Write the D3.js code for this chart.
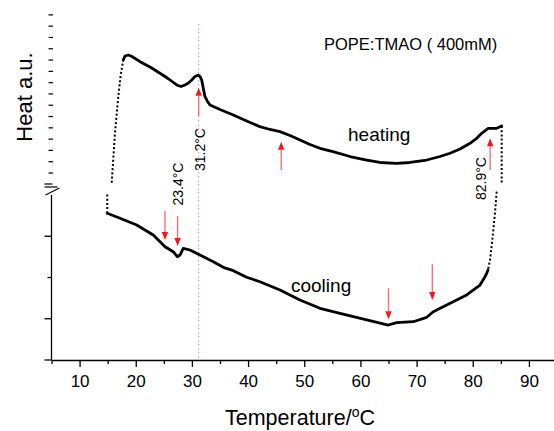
<!DOCTYPE html>
<html>
<head>
<meta charset="utf-8">
<script src="https://cdn.jsdelivr.net/npm/d3@7/dist/d3.min.js"></script>
<style>
  html, body { margin: 0; padding: 0; background: #fff; }
  svg { display: block; font-family: "Liberation Sans", Arial, sans-serif; }
</style>
</head>
<body>
<div id="chart"></div>
<script>
// ---------------- DATA ----------------
// Temperature (°C) and heat (arbitrary units)
const heatingRiseT = [15.72, 16.30, 16.89, 17.32, 17.78];
const heatingRiseH = [4.298, 5.503, 6.383, 6.909, 7.273];

const heatingT = [17.78, 18.09, 18.67, 19.33, 20.76, 22.54, 24.32, 25.74, 27.29, 28.05, 28.77, 29.39, 29.96, 30.55, 31.13, 31.44, 31.74, 32.02, 32.33, 32.77, 33.22, 35.0, 37.37, 39.75, 42.12, 43.90, 45.68, 47.46, 49.24, 51.02, 52.80, 55.12, 58.14, 61.12, 63.48, 66.46, 68.82, 71.80, 74.17, 75.95, 77.73, 79.51, 80.57, 81.59, 82.76, 84.26, 85.15];
const heatingH = [7.273, 7.370, 7.394, 7.358, 7.232, 7.103, 6.950, 6.824, 6.667, 6.630, 6.667, 6.715, 6.788, 6.873, 6.909, 6.873, 6.788, 6.594, 6.383, 6.267, 6.182, 6.073, 5.939, 5.794, 5.656, 5.588, 5.535, 5.442, 5.333, 5.224, 5.132, 5.050, 4.933, 4.848, 4.788, 4.768, 4.788, 4.848, 4.933, 5.011, 5.115, 5.253, 5.358, 5.496, 5.617, 5.617, 5.673];

const heatingEndT = [85.15, 85.15];
const heatingEndH = [5.673, 4.284];

const coolingStartT = [84.26, 83.96, 83.55, 83.07, 82.71];
const coolingStartH = [4.080, 3.564, 2.989, 2.424, 2.182];

const coolingT = [82.71, 82.48, 82.18, 81.29, 78.92, 75.36, 72.97, 71.80, 69.41, 66.46, 64.96, 61.12, 56.36, 52.80, 49.24, 45.68, 42.12, 39.75, 37.37, 35.59, 33.81, 31.44, 29.66, 28.46, 27.88, 27.40, 26.68, 25.21, 23.12, 20.17, 17.20, 14.93];
const coolingH = [2.182, 2.102, 2.019, 1.818, 1.576, 1.333, 1.171, 1.035, 0.928, 0.904, 0.848, 0.970, 1.132, 1.253, 1.455, 1.697, 1.898, 2.005, 2.165, 2.247, 2.383, 2.545, 2.667, 2.708, 2.545, 2.504, 2.625, 2.747, 3.030, 3.273, 3.435, 3.556];

const coolingEndT = [14.93, 14.93];
const coolingEndH = [3.556, 4.048];

// Arrows: temperature, start heat, tip heat
const arrowT     = [31.2, 45.9, 83.1, 25.2, 27.45, 65.0, 72.8];
const arrowFromH = [5.915, 4.606, 4.606, 3.619, 3.491, 1.738, 2.320];
const arrowToH   = [6.601, 5.292, 5.375, 2.909, 2.764, 0.987, 1.455];

// Transition annotations (rotated)
const transLabels = ["31.2°C", "23.4°C", "82.9°C"];
const transT      = [32.33, 28.4, 82.35];
const transH      = [4.582, 3.745, 3.879];

const markerT = 31.2;

// Axis ticks
const xMajorTicks = [10, 20, 30, 40, 50, 60, 70, 80, 90];
const xMinorTicks = [5, 15, 25, 35, 45, 55, 65, 75, 85, 95];
const yLowerMajor = [0, 1, 3];
const yLowerMinor = [2];
const yUpperDashes = [4.533, 4.807, 5.081, 5.354, 5.628, 5.902, 6.176, 6.450, 6.723, 6.997, 7.271, 7.545, 7.819, 8.092, 8.366];

// ---------------- CHART ----------------
const W = 554, H = 431;
const svg = d3.select("#chart").append("svg").attr("width", W).attr("height", H);

const x = d3.scaleLinear().domain([5, 95]).range([51.5, 557]);
const y = d3.scaleLinear().domain([0, 8.727]).range([360, 0]);

const zip = (a, b) => a.map((v, i) => [v, b[i]]);
const line = d3.line().x(d => x(d[0])).y(d => y(d[1]));

// dotted vertical marker
svg.append("line")
  .attr("x1", x(markerT)).attr("x2", x(markerT))
  .attr("y1", 24).attr("y2", y(0))
  .attr("stroke", "#f08a9a").attr("stroke-width", 1)
  .attr("stroke-dasharray", "1.5,2.5");

// X axis
const xAxis = svg.append("g").attr("transform", `translate(0,${y(0)})`)
  .call(d3.axisBottom(x).tickValues(xMajorTicks).tickSize(7).tickSizeOuter(0).tickPadding(8));
xAxis.selectAll("text").attr("font-size", 17).attr("font-family", "Liberation Sans, Arial, sans-serif").attr("fill", "#000");
xAxis.select(".domain").attr("stroke-width", 1.3);
xAxis.selectAll(".tick line").attr("stroke-width", 1.3);
const xMinor = svg.append("g").attr("transform", `translate(0,${y(0)})`)
  .call(d3.axisBottom(x).tickValues(xMinorTicks).tickSize(4).tickFormat(""));
xMinor.select(".domain").remove();
xMinor.selectAll(".tick line").attr("stroke-width", 1.3);

// Lower Y axis (line + ticks)
const yAxisX = 51.5;
svg.append("line").attr("x1", yAxisX).attr("x2", yAxisX)
  .attr("y1", y(0)).attr("y2", y(4)).attr("stroke", "#000").attr("stroke-width", 1.3);
svg.selectAll(".ymaj").data(yLowerMajor).enter().append("line")
  .attr("x1", yAxisX - 7).attr("x2", yAxisX).attr("y1", d => y(d)).attr("y2", d => y(d))
  .attr("stroke", "#000").attr("stroke-width", 1.3);
svg.selectAll(".ymin").data(yLowerMinor).enter().append("line")
  .attr("x1", yAxisX - 4).attr("x2", yAxisX).attr("y1", d => y(d)).attr("y2", d => y(d))
  .attr("stroke", "#000").attr("stroke-width", 1.3);

// Upper Y axis dashes
svg.selectAll(".ydash").data(yUpperDashes).enter().append("line")
  .attr("x1", yAxisX - 3).attr("x2", yAxisX + 1.5).attr("y1", d => y(d)).attr("y2", d => y(d))
  .attr("stroke", "#000").attr("stroke-width", 1.2);

// Break symbol
const brk = svg.append("g").attr("stroke", "#000").attr("stroke-width", 1.2).attr("fill", "none");
brk.append("line").attr("x1", yAxisX - 7).attr("x2", yAxisX + 1).attr("y1", y(4) - 11).attr("y2", y(4) - 11);
brk.append("line").attr("x1", yAxisX - 7).attr("x2", yAxisX + 6).attr("y1", y(4) - 8).attr("y2", y(4) - 8);
brk.append("line").attr("x1", yAxisX - 6).attr("x2", yAxisX + 8).attr("y1", y(4)).attr("y2", y(4) - 7);

// Curves
const solid = (t, h) => svg.append("path").datum(zip(t, h)).attr("d", line)
  .attr("fill", "none").attr("stroke", "#000").attr("stroke-width", 2.8)
  .attr("stroke-linejoin", "round").attr("stroke-linecap", "round");
const dotted = (t, h) => svg.append("path").datum(zip(t, h)).attr("d", line)
  .attr("fill", "none").attr("stroke", "#000").attr("stroke-width", 2)
  .attr("stroke-dasharray", "2,2.2");

dotted(heatingRiseT, heatingRiseH);
solid(heatingT, heatingH);
dotted(heatingEndT, heatingEndH);
dotted(coolingStartT, coolingStartH);
solid(coolingT, coolingH);
dotted(coolingEndT, coolingEndH);

// Arrows
arrowT.forEach((t, i) => {
  const x0 = x(t), y0 = y(arrowFromH[i]), y1 = y(arrowToH[i]);
  const dir = y1 < y0 ? -1 : 1; // -1 => up
  const headLen = 8, headW = 3.2;
  const yBase = y1 - dir * headLen;
  svg.append("line").attr("x1", x0).attr("x2", x0).attr("y1", y0).attr("y2", yBase)
    .attr("stroke", "#f4707a").attr("stroke-width", 1.4);
  svg.append("path")
    .attr("d", `M${x0},${y1} L${x0 - headW},${yBase} L${x0 + headW},${yBase} Z`)
    .attr("fill", "#f01820");
});

// Transition labels (rotated)
transLabels.forEach((s, i) => {
  svg.append("text")
    .attr("transform", `translate(${x(transT[i])},${y(transH[i])}) rotate(-90)`)
    .attr("font-size", 14).attr("fill", "#000").text(s);
});

// Curve labels
svg.append("text").attr("x", x(57.8)).attr("y", y(5.30)).attr("font-size", 19).text("heating");
svg.append("text").attr("x", x(47.64)).attr("y", y(1.654)).attr("font-size", 19).text("cooling");
svg.append("text").attr("x", 324).attr("y", 50).attr("font-size", 16.5).text("POPE:TMAO ( 400mM)");

// Axis titles
svg.append("text").attr("transform", "translate(32,97) rotate(-90)")
  .attr("text-anchor", "middle").attr("font-size", 22).text("Heat a.u.");
const xt = svg.append("text").attr("x", 300).attr("y", 425).attr("text-anchor", "middle").attr("font-size", 21.5);
xt.append("tspan").text("Temperature/");
xt.append("tspan").attr("font-size", 14).attr("dy", -8).text("o");
xt.append("tspan").attr("dy", 8).text("C");
</script>
</body>
</html>
